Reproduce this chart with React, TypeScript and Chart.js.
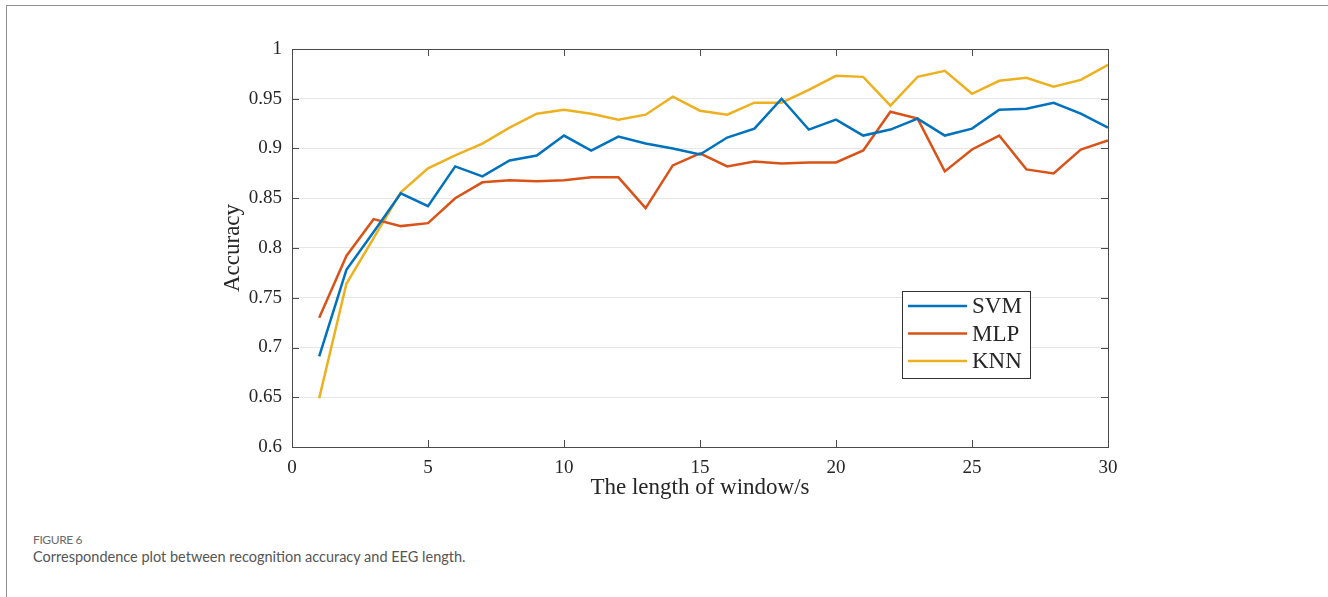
import React, { useEffect, useRef } from "react";
import { Chart, registerables } from "chart.js";

Chart.register(...registerables);

const windowLengths = [1, 2, 3, 4, 5, 6, 7, 8, 9, 10, 11, 12, 13, 14, 15, 16, 17, 18, 19, 20, 21, 22, 23, 24, 25, 26, 27, 28, 29, 30];
const svmAcc = [0.691, 0.778, 0.816, 0.855, 0.842, 0.882, 0.872, 0.888, 0.893, 0.913, 0.898, 0.912, 0.905, 0.9, 0.894, 0.911, 0.92, 0.95, 0.919, 0.929, 0.913, 0.919, 0.93, 0.913, 0.92, 0.939, 0.94, 0.946, 0.935, 0.921];
const mlpAcc = [0.73, 0.792, 0.829, 0.822, 0.825, 0.85, 0.866, 0.868, 0.867, 0.868, 0.871, 0.871, 0.84, 0.883, 0.895, 0.882, 0.887, 0.885, 0.886, 0.886, 0.898, 0.937, 0.93, 0.877, 0.899, 0.913, 0.879, 0.875, 0.899, 0.908];
const knnAcc = [0.649, 0.764, 0.81, 0.856, 0.88, 0.893, 0.905, 0.921, 0.935, 0.939, 0.935, 0.929, 0.934, 0.952, 0.938, 0.934, 0.946, 0.946, 0.959, 0.973, 0.972, 0.943, 0.972, 0.978, 0.955, 0.968, 0.971, 0.962, 0.969, 0.984];
const seriesNames = ["SVM", "MLP", "KNN"];
const seriesColors = ["#0072BD", "#D95319", "#EDB120"];
const xTitle = "The length of window/s";
const yTitle = "Accuracy";
const captionLabel = "FIGURE 6";
const captionText = "Correspondence plot between recognition accuracy and EEG length.";

const SERIF = "'Liberation Serif', 'Times New Roman', serif";
const TEXT = "#262626";

const framePlugin = {
  id: "matlabFrame",
  afterDatasetsDraw(chart: any) {
    const { ctx, chartArea: a, scales } = chart;
    const xs = scales.x;
    const ys = scales.y;
    ctx.save();
    // box
    ctx.strokeStyle = "#4a4a4a";
    ctx.lineWidth = 1;
    ctx.strokeRect(Math.round(a.left) + 0.5, Math.round(a.top) + 0.5, Math.round(a.right - a.left), Math.round(a.bottom - a.top));
    // inner ticks
    const tl = 7;
    ctx.beginPath();
    xs.ticks.forEach((t: any) => {
      const px = Math.round(xs.getPixelForValue(t.value)) + 0.5;
      ctx.moveTo(px, a.bottom);
      ctx.lineTo(px, a.bottom - tl);
      ctx.moveTo(px, a.top);
      ctx.lineTo(px, a.top + tl);
    });
    ys.ticks.forEach((t: any) => {
      const py = Math.round(ys.getPixelForValue(t.value)) + 0.5;
      ctx.moveTo(a.left, py);
      ctx.lineTo(a.left + tl, py);
      ctx.moveTo(a.right, py);
      ctx.lineTo(a.right - tl, py);
    });
    ctx.stroke();

    // axis titles
    ctx.fillStyle = TEXT;
    ctx.font = `23px ${SERIF}`;
    ctx.textAlign = "center";
    ctx.textBaseline = "alphabetic";
    ctx.fillText(xTitle, (a.left + a.right) / 2, a.bottom + 47);
    ctx.save();
    ctx.translate(a.left - 59, (a.top + a.bottom) / 2);
    ctx.rotate(-Math.PI / 2);
    ctx.textBaseline = "middle";
    ctx.fillText(yTitle, 0, 0);
    ctx.restore();

    // legend
    const lx = a.right - 206;
    const ly = a.bottom - 156;
    const lw = 128;
    const lh = 87;
    ctx.fillStyle = "#ffffff";
    ctx.fillRect(lx, ly, lw, lh);
    ctx.strokeStyle = "#333333";
    ctx.lineWidth = 1;
    ctx.strokeRect(lx + 0.5, ly + 0.5, lw, lh);
    chart.data.datasets.forEach((ds: any, i: number) => {
      const cy = ly + 15 + i * 27.5;
      ctx.strokeStyle = ds.borderColor;
      ctx.lineWidth = 2.5;
      ctx.beginPath();
      ctx.moveTo(lx + 6, cy);
      ctx.lineTo(lx + 65, cy);
      ctx.stroke();
      ctx.fillStyle = TEXT;
      ctx.font = `23px ${SERIF}`;
      ctx.textAlign = "left";
      ctx.textBaseline = "middle";
      ctx.fillText(ds.label, lx + 70, cy + 1);
    });
    ctx.restore();
  },
};

function ChartCanvas() {
  const ref = useRef<HTMLCanvasElement | null>(null);
  useEffect(() => {
    if (!ref.current) return;
    const seriesValues = [svmAcc, mlpAcc, knnAcc];
    const chart = new Chart(ref.current, {
      type: "line",
      data: {
        datasets: seriesValues.map((vals, i) => ({
          label: seriesNames[i],
          data: windowLengths.map((w, j) => ({ x: w, y: vals[j] })),
          borderColor: seriesColors[i],
          backgroundColor: seriesColors[i],
          borderWidth: 2.5,
          pointRadius: 0,
          tension: 0,
          fill: false,
        })),
      },
      options: {
        animation: false,
        responsive: false,
        layout: { padding: { left: 0, top: 49, right: 220, bottom: 0 } },
        plugins: { legend: { display: false }, tooltip: { enabled: false } },
        scales: {
          x: {
            type: "linear",
            min: 0,
            max: 30,
            afterFit: (s: any) => { s.height = 73; },
            grid: { display: false, drawTicks: false },
            border: { display: false },
            ticks: {
              stepSize: 5,
              padding: 10,
              color: TEXT,
              font: { family: SERIF, size: 19 },
              maxRotation: 0,
            },
          },
          y: {
            type: "linear",
            min: 0.6,
            max: 1,
            afterFit: (s: any) => { s.width = 292; },
            grid: { color: "#e6e6e6", lineWidth: 1, drawTicks: false },
            border: { display: false },
            ticks: {
              stepSize: 0.05,
              padding: 10,
              color: TEXT,
              font: { family: SERIF, size: 19 },
              callback: (v: any) => String(Number(Number(v).toFixed(2))),
            },
          },
        },
      } as any,
      plugins: [framePlugin],
    });
    return () => chart.destroy();
  }, []);
  return (
    <canvas
      ref={ref}
      width={1328}
      height={520}
      style={{ position: "absolute", left: 0, top: 0, width: 1328, height: 520 }}
    />
  );
}

export default function App() {
  return (
    <div style={{ position: "fixed", left: 0, top: 0, width: 1328, height: 597, overflow: "hidden", background: "#fff" }}>
      <div
        style={{
          position: "absolute",
          left: 6,
          top: 5,
          width: 1400,
          height: 700,
          border: "1.5px solid #8f8f8f",
          boxSizing: "border-box",
        }}
      />
      <ChartCanvas />
      <div
        style={{
          position: "absolute",
          left: 33,
          top: 532,
          fontFamily: "Lato, 'Open Sans', sans-serif",
          fontSize: 12,
          letterSpacing: "-0.4px",
          color: "#6a6a6a",
          lineHeight: "16px",
          whiteSpace: "nowrap",
        }}
      >
        {captionLabel}
      </div>
      <div
        style={{
          position: "absolute",
          left: 33,
          top: 548,
          fontFamily: "Lato, 'Open Sans', sans-serif",
          fontSize: 14.5,
          color: "#555555",
          lineHeight: "18px",
          whiteSpace: "nowrap",
        }}
      >
        {captionText}
      </div>
    </div>
  );
}
